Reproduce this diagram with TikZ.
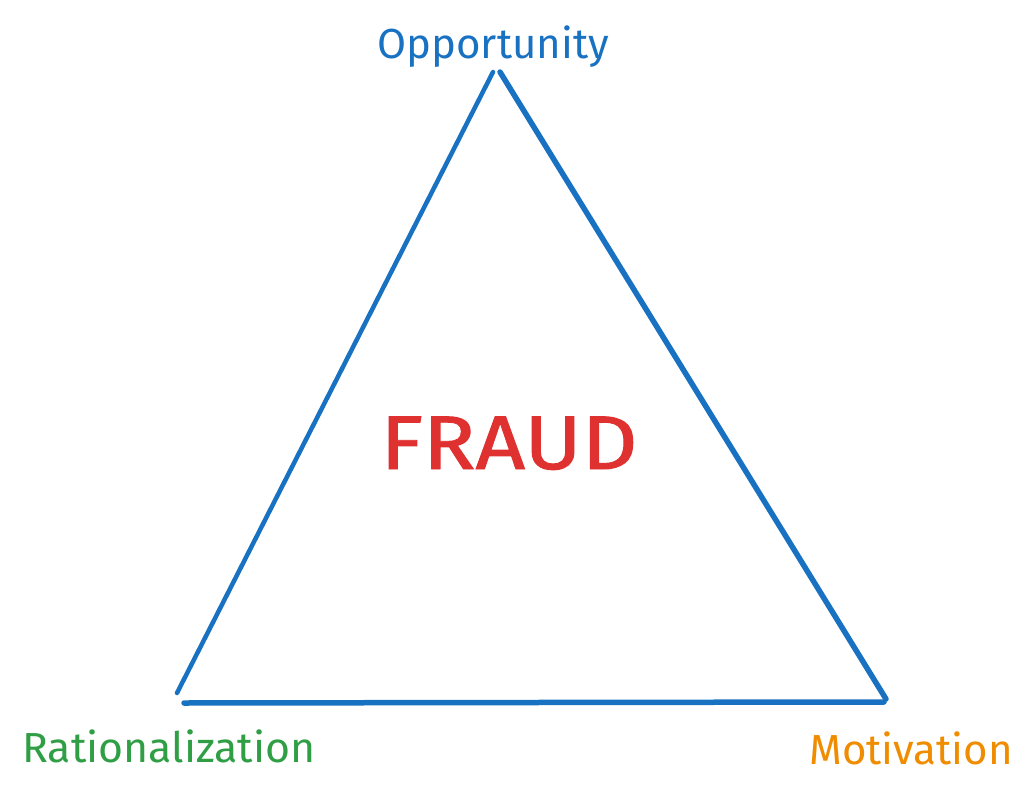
\documentclass[tikz,border=0pt]{standalone}
\usepackage{fontspec}
\setmainfont{Fira Sans}
\definecolor{exblue}{HTML}{1971C2}
\definecolor{exred}{HTML}{E03131}
\definecolor{exgreen}{HTML}{2F9E44}
\definecolor{exorange}{HTML}{F08C00}
\tikzset{
  edge/.style={draw=exblue, line width=4.5pt, line cap=round},
  lbl/.style={inner sep=0pt, font=\fontsize{42}{50}\selectfont},
}
\begin{document}
\begin{tikzpicture}[x=1pt,y=-1pt]
\useasboundingbox (0,0) rectangle (1034,795);
\coordinate (topL) at (493,72);
\coordinate (topR) at (500,72);
\coordinate (blA) at (177,693);
\coordinate (blB) at (184,703);
\coordinate (brA) at (886,699);
\coordinate (brB) at (884,702);
\draw[edge, line width=4.5pt] (topL) -- (blA);
\draw[edge, line width=5.5pt] (topR) -- (brA);
\draw[edge, line width=5.5pt] (blB) -- (brB);
\node[lbl, text=exblue, anchor=base] (opp) at (493,58) {Opportunity};
\node[lbl, text=exgreen, anchor=base west] (rat) at (22,762) {\scalebox{1.02}[1]{Rationalization}};
\node[lbl, text=exorange, anchor=base east] (mot) at (1013,764) {Motivation};
\node[inner sep=0pt, text=exred, anchor=base, font=\fontsize{76}{90}\selectfont\addfontfeature{FakeBold=1.2}] (fraud) at (509,469) {\scalebox{1.14}[1]{FRAUD}};
\end{tikzpicture}
\end{document}
